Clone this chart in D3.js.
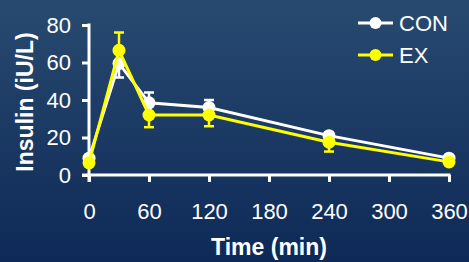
<!DOCTYPE html>
<html>
<head>
<meta charset="utf-8">
<script src="https://cdn.jsdelivr.net/npm/d3@7"></script>
<style>
  html, body { margin: 0; padding: 0; }
  body { width: 469px; height: 262px; overflow: hidden; }
  text { font-family: "Liberation Sans", Arial, sans-serif; fill: #fff; }
</style>
</head>
<body>
<div id="chart"></div>
<script>
// Insulin response over time, two groups
const times = [0, 30, 60, 120, 240, 360];
const conValues = [9, 59.5, 38.5, 36, 21, 9];
const conErrors = [0, 7.5, 5.5, 4, 0, 0];
const exValues = [6.5, 66.5, 32, 32, 17.5, 7];
const exErrors = [0, 9.5, 6.5, 6, 5, 0];
const xTicks = [0, 60, 120, 180, 240, 300, 360];
const yTicks = [0, 20, 40, 60, 80];

const width = 469,
      height = 262;

const svg = d3.select("#chart").append("svg")
    .attr("width", width)
    .attr("height", height);

// Background gradient
const grad = svg.append("defs").append("linearGradient")
    .attr("id", "bg")
    .attr("x1", 0).attr("y1", 0).attr("x2", 0).attr("y2", 1);
grad.append("stop").attr("offset", "0%").attr("stop-color", "#284a70");
grad.append("stop").attr("offset", "100%").attr("stop-color", "#0e2957");

svg.append("rect")
    .attr("width", width)
    .attr("height", height)
    .style("fill", "url(#bg)");

const x = d3.scaleLinear().domain([0, 360]).range([89, 449]);
const y = d3.scaleLinear().domain([0, 80]).range([175, 25]);

// Axes
const xAxis = svg.append("g")
    .attr("transform", `translate(0,${y(0)})`)
    .call(d3.axisBottom(x).tickValues(xTicks).tickSize(7).tickPadding(21));

const yAxis = svg.append("g")
    .attr("transform", `translate(${x(0)},0)`)
    .call(d3.axisLeft(y).tickValues(yTicks).tickSize(7).tickPadding(11));

[xAxis, yAxis].forEach(g => {
    g.select(".domain").remove();
    g.selectAll("line").style("stroke", "#fff").style("stroke-width", 3);
    g.selectAll("text")
        .style("fill", "#fff")
        .style("font-size", "22px")
        .style("font-family", "Liberation Sans, Arial, sans-serif");
});

// axis lines drawn by hand so they extend a bit
svg.append("line")
    .attr("x1", x(0) - 7).attr("x2", x(360) + 1.5)
    .attr("y1", y(0)).attr("y2", y(0))
    .style("stroke", "#fff").style("stroke-width", 3);
svg.append("line")
    .attr("x1", x(0)).attr("x2", x(0))
    .attr("y1", y(80) - 1.5).attr("y2", y(0) + 7)
    .style("stroke", "#fff").style("stroke-width", 3);

// Axis titles
svg.append("text")
    .attr("x", x(180))
    .attr("y", 255)
    .attr("text-anchor", "middle")
    .style("font-size", "23px")
    .style("font-weight", "bold")
    .text("Time (min)");

svg.append("text")
    .attr("transform", `translate(33,102) rotate(-90)`)
    .attr("text-anchor", "middle")
    .style("font-size", "23px")
    .style("font-weight", "bold")
    .text("Insulin (iU/L)");

// Series
const series = [
    { name: "CON", color: "#ffffff", values: conValues, errors: conErrors, other: exValues },
    { name: "EX", color: "#ffff00", values: exValues, errors: exErrors, other: conValues }
];

const line = d3.line()
    .x((d, i) => x(times[i]))
    .y(d => y(d));

series.forEach(s => {
    const g = svg.append("g");

    // error bars, pointing away from the other series
    times.forEach((t, i) => {
        if (!s.errors[i]) return;
        const dir = s.values[i] >= s.other[i] ? 1 : -1;
        const end = y(s.values[i] + dir * s.errors[i]);
        g.append("line")
            .attr("x1", x(t)).attr("x2", x(t))
            .attr("y1", y(s.values[i])).attr("y2", end)
            .style("stroke", s.color).style("stroke-width", 2.5);
        g.append("line")
            .attr("x1", x(t) - 5).attr("x2", x(t) + 5)
            .attr("y1", end).attr("y2", end)
            .style("stroke", s.color).style("stroke-width", 2.5);
    });

    g.append("path")
        .datum(s.values)
        .attr("d", line)
        .style("fill", "none")
        .style("stroke", s.color)
        .style("stroke-width", 3);

    g.selectAll("circle")
        .data(s.values)
        .enter().append("circle")
        .attr("cx", (d, i) => x(times[i]))
        .attr("cy", d => y(d))
        .attr("r", 6.5)
        .style("fill", s.color);
});

// Legend
const legend = svg.append("g").attr("transform", "translate(358,23)");
series.forEach((s, i) => {
    const row = legend.append("g").attr("transform", `translate(0,${i * 32})`);
    row.append("line")
        .attr("x1", 0).attr("x2", 35)
        .attr("y1", 0).attr("y2", 0)
        .style("stroke", s.color).style("stroke-width", 3);
    row.append("circle")
        .attr("cx", 17.5).attr("cy", 0).attr("r", 6)
        .style("fill", s.color);
    row.append("text")
        .attr("x", 41)
        .attr("y", 0)
        .attr("dy", "0.35em")
        .style("font-size", "22px")
        .text(s.name);
});
</script>
</body>
</html>
